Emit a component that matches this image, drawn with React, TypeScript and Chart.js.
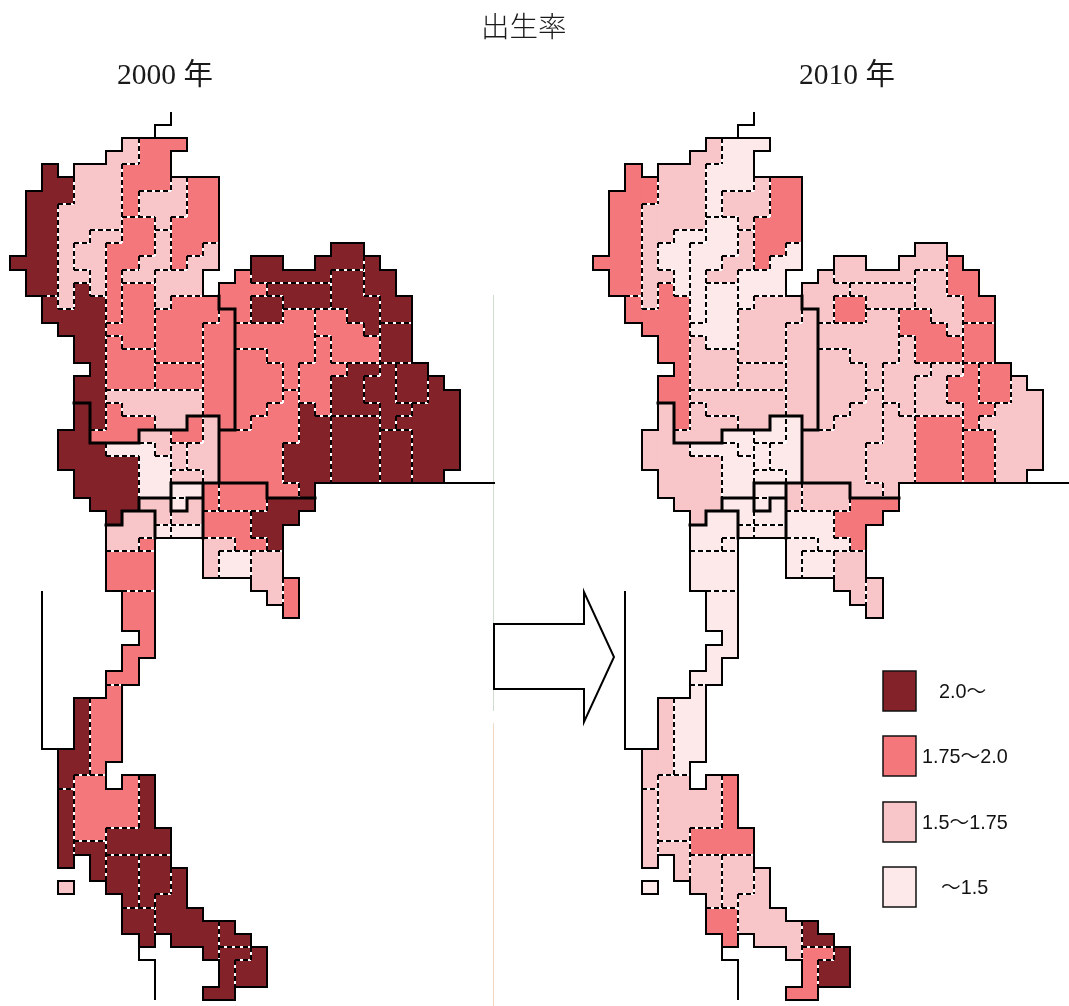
import React, { useEffect, useRef } from "react";
import { Chart, registerables } from "chart.js";

Chart.register(...registerables);

// ---- data -----------------------------------------------------------
const mainTitle = "出生率";
const mapYears = ["2000 年", "2010 年"];
const legendLabels = ["2.0〜", "1.75〜2.0", "1.5〜1.75", "〜1.5"];
const classColors = ["#84222A", "#F4777B", "#F8C6C8", "#FDE9EA"];

// tile grid: one character per province, one string per grid row
const tileRows = [
  "",
  "",
  ".......bddd",
  "......bbdd",
  "..a.bbbddd",
  "..aabbbdddeff",
  ".aaabbbdeeeff",
  ".aabbbbdeeeff",
  ".aabbbbggefff",
  ".aabbccgghfff",
  ".aabccggghffi.......22",
  "aaabccgghhfii..22..2223",
  ".aabbcghhiii..1222224433",
  ".aablcgkkiii.11155554433",
  "..lbllgkkijjj116655544433",
  "..llllgkkjjjjm16677004433",
  "...lllkkkjjjmm777770004$$",
  "....llnkkjjjmm77777S000$$",
  "....llnnnjjjmm88777S000$$",
  ".....lnnnooomm8887SSSUUVWW",
  "....llnnnooomm8887SSUUVVWWX",
  "....llppppppmm8889SSUUVVWWXX",
  "....slqpppppmm8899TSUUUVVXXX",
  "....slqqqppvwm8999TTYYYVXXXX",
  "...ssqqquuvvw99999TTYYYZZXXX",
  "...ssstttuyww9999TTTYYYZZXXX",
  "...sssssttyww9999TTTYYYZZXXX",
  "....ssssttxxw9999TTTYYYZZXX",
  "....ssssttFFKLLL99T",
  ".....sssEEGHKLLLNNN",
  "......sAAEHHMMMNNN",
  "......AAAIJJMMMNN",
  "......AAB...OOMMN",
  "......CCC...OPPQQ",
  "......CCC...OPPQQ",
  "......CCC......QQR",
  ".......DD.......QR",
  ".......DD........R",
  ".......DD",
  "........D",
  ".......DD",
  ".......D",
  "......DD",
  "......!",
  "....@!!",
  "....@!!",
  "....@!!",
  "....@!!",
  "...@@!!",
  "...@@!",
  "...@##.#%",
  "...^####%",
  "...^####%",
  "...^####%",
  "...^##%%%%",
  "...^&&%%%%",
  "...^.&**((",
  ".....&**(()",
  "...?..**(()",
  ".......*())",
  ".......++)))",
  ".......++))))-",
  "........+.)))--",
  "............)==~",
  ".............=~~",
  ".............=~~",
  "............==",
];

// provinces by class: [2.0~, 1.75~2.0, 1.5~1.75, ~1.5]
const classes2000 = [
  "alsN23456TUVWXYZ$@%^&*()+-=~",
  "dfgjkmnoqvBCDKLMR17890S!#",
  "bcehipuwxyAEHOQ?",
  "tFGIJP",
];
const classes2010 = [
  "-~",
  "alf603$VWYZ%+=N",
  "behjmnopqs1245789STUXKLQR@#&*()^",
  "cdgiktuvwxyABCDEFGHIJMOP!?",
];
const mapClasses = [classes2000, classes2010];

// thick lines separate these groups of provinces
const regionGroups = [
  "abcdefghijklmnopq",
  "stuvwxy",
  "FG",
  "EHIJ",
  "ABCD!@#%^&*()+-=~?",
  "KLMNOPQR",
  "1234567890STUVWXYZ$",
];

// open (unfilled) outline pieces, as grid [column, row] corners
const openLines = [
  [[10, 0], [10, 1], [9, 1], [9, 2]],
  [[19, 28], [30.2, 28]],
  [[2, 36], [2, 48], [3, 48]],
  [[8, 63], [8, 64], [9, 64], [9, 67]],
];

// ---- layout ---------------------------------------------------------
const W = 1069;
const H = 1006;
const COL = 16.07;
const X0 = 10;
const MAP_SHIFT = 583.3 / COL;
const rowAnchors = [
  [0, 111.5], [14, 296], [28, 483], [29, 498], [44, 698], [48, 749], [67, 1000],
];

function yOf(r: number) {
  for (let i = 1; i < rowAnchors.length; i++) {
    const [r0, y0] = rowAnchors[i - 1];
    const [r1, y1] = rowAnchors[i];
    if (r <= r1) return Math.round(y0 + ((r - r0) * (y1 - y0)) / (r1 - r0));
  }
  return H;
}

const cell = (r: number, c: number) => (tileRows[r] && tileRows[r][c]) || ".";
const regionOf = (p: string) => regionGroups.findIndex((g) => g.includes(p));
const classOf = (p: string, table: string[]) => table.findIndex((g) => g.includes(p));

function edgeType(a: string, b: string) {
  if (a === b) return 0;
  if (a === "." || b === ".") return 2;
  return regionOf(a) !== regionOf(b) ? 3 : 1;
}

function buildDatasets() {
  return legendLabels.map((label, k) => {
    const data: { x: number; y: number[] }[] = [];
    mapClasses.forEach((table, m) => {
      for (let c = 0; c < 30; c++) {
        let r = 0;
        while (r < tileRows.length) {
          const p = cell(r, c);
          if (p === "." || classOf(p, table) !== k) {
            r++;
            continue;
          }
          let e = r + 1;
          while (e < tileRows.length && cell(e, c) !== "." && classOf(cell(e, c), table) === k) e++;
          data.push({ x: c + 0.5 + m * MAP_SHIFT, y: [yOf(r), yOf(e)] });
          r = e;
        }
      }
    });
    return {
      label,
      data,
      backgroundColor: classColors[k],
      borderWidth: 0,
      barThickness: 16.6,
      grouped: false,
    };
  });
}

const linesPlugin = {
  id: "tileLines",
  afterDatasetsDraw(chart: any) {
    const ctx = chart.ctx as CanvasRenderingContext2D;
    const sx = chart.scales.x;
    const sy = chart.scales.y;
    const px = (v: number) => Math.round(sx.getPixelForValue(v));
    const py = (v: number) => Math.round(sy.getPixelForValue(v));
    ctx.save();
    ctx.lineCap = "butt";

    // faint sheet line between the maps
    ctx.strokeStyle = "#cfdccf";
    ctx.lineWidth = 1;
    ctx.beginPath();
    ctx.moveTo(493.5, 295);
    ctx.lineTo(493.5, 711);
    ctx.stroke();
    ctx.strokeStyle = "#f2d9c4";
    ctx.beginPath();
    ctx.moveTo(493.5, 723);
    ctx.lineTo(493.5, 1006);
    ctx.stroke();

    for (let m = 0; m < 2; m++) {
      const shift = m * MAP_SHIFT;
      const segs: number[][][] = [[], [], [], []];
      // horizontal edges
      for (let r = 0; r <= tileRows.length; r++) {
        let start = -1;
        let type = 0;
        for (let c = 0; c <= 30; c++) {
          const t = c === 30 ? 0 : edgeType(cell(r - 1, c), cell(r, c));
          if (t !== type) {
            if (type) segs[type].push([start, yOf(r), c, yOf(r)]);
            start = c;
            type = t;
          }
        }
      }
      // vertical edges
      for (let c = 0; c <= 30; c++) {
        let start = -1;
        let type = 0;
        for (let r = 0; r <= tileRows.length; r++) {
          const t = r === tileRows.length ? 0 : edgeType(cell(r, c - 1), cell(r, c));
          if (t !== type) {
            if (type) segs[type].push([c, yOf(start), c, yOf(r)]);
            start = r;
            type = t;
          }
        }
      }
      const strokeSegs = (list: number[][]) => {
        ctx.beginPath();
        list.forEach(([x1, y1, x2, y2]) => {
          ctx.moveTo(px(x1 + shift), py(y1));
          ctx.lineTo(px(x2 + shift), py(y2));
        });
        ctx.stroke();
      };
      ctx.setLineDash([]);
      ctx.strokeStyle = "#ffffff";
      ctx.lineWidth = 2;
      strokeSegs(segs[1]);
      ctx.setLineDash([5, 3]);
      ctx.strokeStyle = "#000000";
      strokeSegs(segs[1]);
      ctx.setLineDash([]);
      ctx.lineCap = "square";
      ctx.lineWidth = 2;
      strokeSegs(segs[2]);
      ctx.lineWidth = 3;
      strokeSegs(segs[3]);
      ctx.lineCap = "butt";
      ctx.lineWidth = 2;
      openLines.forEach((line) => {
        ctx.beginPath();
        line.forEach(([c, r], i) => {
          const x = px(c + shift);
          const y = py(yOf(r));
          if (i === 0) ctx.moveTo(x, y);
          else ctx.lineTo(x, y);
        });
        ctx.stroke();
      });
    }

    // arrow between the two maps
    ctx.fillStyle = "#ffffff";
    ctx.strokeStyle = "#000000";
    ctx.lineWidth = 2;
    ctx.beginPath();
    ctx.moveTo(494, 624);
    ctx.lineTo(584, 624);
    ctx.lineTo(584, 592);
    ctx.lineTo(614, 657);
    ctx.lineTo(584, 722);
    ctx.lineTo(584, 689);
    ctx.lineTo(494, 689);
    ctx.closePath();
    ctx.fill();
    ctx.stroke();

    // titles
    ctx.fillStyle = "#1a1a1a";
    ctx.textBaseline = "alphabetic";
    ctx.textAlign = "left";
    ctx.font = '300 28.5px "Noto Sans CJK JP", "Liberation Serif"';
    ctx.fillText(mainTitle, 481, 37);
    ctx.font = '29.5px "Liberation Serif", "Noto Sans CJK JP"';
    ctx.fillText(mapYears[0], 117, 84);
    ctx.fillText(mapYears[1], 799, 84);

    // legend
    const swatchTop = [671, 736, 802, 867];
    const labelLeft = [939, 922, 922, 941];
    legendLabels.forEach((label, i) => {
      ctx.fillStyle = classColors[i];
      ctx.strokeStyle = "#111111";
      ctx.lineWidth = 1.5;
      ctx.fillRect(883, swatchTop[i], 33, 40);
      ctx.strokeRect(883, swatchTop[i], 33, 40);
      ctx.fillStyle = "#111111";
      ctx.font = '19.8px "Liberation Sans", "Noto Sans CJK JP"';
      ctx.textBaseline = "middle";
      ctx.fillText(label, labelLeft[i], swatchTop[i] + 22);
    });
    ctx.restore();
  },
};

export default function App() {
  const ref = useRef<HTMLCanvasElement | null>(null);
  useEffect(() => {
    const canvas = ref.current;
    if (!canvas) return;
    const chart = new Chart(canvas, {
      type: "bar",
      data: { datasets: buildDatasets() as any },
      options: {
        animation: false,
        responsive: false,
        layout: { padding: 0 },
        plugins: { legend: { display: false }, tooltip: { enabled: false }, title: { display: false } },
        scales: {
          x: {
            type: "linear",
            display: false,
            offset: false,
            min: -X0 / COL,
            max: (W - X0) / COL,
            grid: { offset: false },
          },
          y: { type: "linear", display: false, reverse: true, min: 0, max: H },
        },
      } as any,
      plugins: [linesPlugin],
    });
    return () => chart.destroy();
  }, []);
  return (
    <canvas
      ref={ref}
      width={W}
      height={H}
      style={{ position: "absolute", left: 0, top: 0, width: W, height: H, display: "block" }}
    />
  );
}
